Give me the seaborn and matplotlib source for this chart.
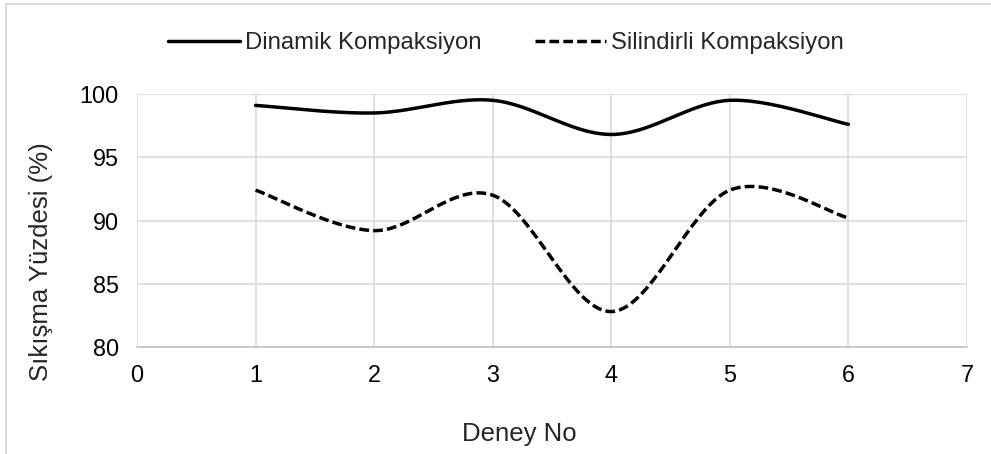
import numpy as np
import pandas as pd
import matplotlib
matplotlib.use("Agg")
import matplotlib.pyplot as plt
import seaborn as sns

deney_no = [1, 2, 3, 4, 5, 6]
dinamik = [99.1, 98.5, 99.5, 96.8, 99.5, 97.6]
silindirli = [92.4, 89.2, 92.0, 82.8, 92.4, 90.2]
series_names = ["Dinamik Kompaksiyon", "Silindirli Kompaksiyon"]
x_label = "Deney No"
y_label = "Sıkışma Yüzdesi (%)"


def smooth(x, y, n=40):
    # Catmull-Rom style smoothing (like Excel's smoothed line) for rendering
    x = np.asarray(x, float)
    y = np.asarray(y, float)
    P = np.column_stack([x, y])
    P = np.vstack([P[0], P, P[-1]])
    out = []
    for i in range(1, len(P) - 2):
        p0, p1, p2, p3 = P[i - 1], P[i], P[i + 1], P[i + 2]
        c1 = p1 + (p2 - p0) / 6.0
        c2 = p2 - (p3 - p1) / 6.0
        t = np.linspace(0, 1, n, endpoint=(i == len(P) - 3))[:, None]
        b = ((1 - t) ** 3) * p1 + 3 * ((1 - t) ** 2) * t * c1 + 3 * (1 - t) * t ** 2 * c2 + t ** 3 * p2
        out.append(b)
    out = np.vstack(out)
    return out[:, 0], out[:, 1]


sns.set_style("white")
plt.rcParams["font.family"] = ["Liberation Sans", "DejaVu Sans"]

W, H = 991, 454
fig = plt.figure(figsize=(W / 100, H / 100), dpi=100)
ax = fig.add_axes([137 / W, 1 - 347 / H, (967 - 137) / W, (347 - 94) / H])

frames = []
for name, vals in zip(series_names, [dinamik, silindirli]):
    sx, sy = smooth(deney_no, vals)
    frames.append(pd.DataFrame({"x": sx, "y": sy, "seri": name}))
df = pd.concat(frames, ignore_index=True)

sns.lineplot(data=df, x="x", y="y", hue="seri", style="seri",
             palette=["black", "black"],
             dashes={series_names[0]: "", series_names[1]: (2.8, 1.2)},
             linewidth=2.5, sort=False, estimator=None, ax=ax)

ax.set_xlim(0, 7)
ax.set_ylim(80, 100)
ax.set_xticks(range(0, 8))
ax.set_yticks([80, 85, 90, 95, 100])
ax.grid(True, color="#d9d9d9", linewidth=1.2)
ax.set_axisbelow(True)
for s in ["top", "right", "left"]:
    ax.spines[s].set_visible(False)
ax.spines["bottom"].set_color("#bfbfbf")
ax.spines["bottom"].set_linewidth(1.2)
ax.tick_params(axis="x", length=0, labelsize=16.8, colors="#000000", pad=12)
ax.tick_params(axis="y", length=0, labelsize=16.8, colors="#000000", pad=13)
ax.set_xlabel("")
ax.set_ylabel("")
fig.text(519 / W, 1 - 434 / H, x_label, fontsize=18.5, ha="center", va="center")
fig.text(41 / W, 1 - 262 / H, y_label, fontsize=18.5, ha="center", va="center",
         rotation=90)

leg = ax.legend(loc="center", bbox_to_anchor=(506 / W, 1 - 43 / H),
                bbox_transform=fig.transFigure, ncol=2,
                frameon=False, fontsize=17.2, handlelength=3.0,
                handletextpad=0.2, columnspacing=2.25)

# chart area border
fig.patches.append(plt.Rectangle((6 / W, -0.1), 1.2, 1 - 4 / H + 0.1,
                                 transform=fig.transFigure, fill=False,
                                 edgecolor="#d9d9d9", linewidth=1.5))

fig.savefig("out.png", dpi=100)
